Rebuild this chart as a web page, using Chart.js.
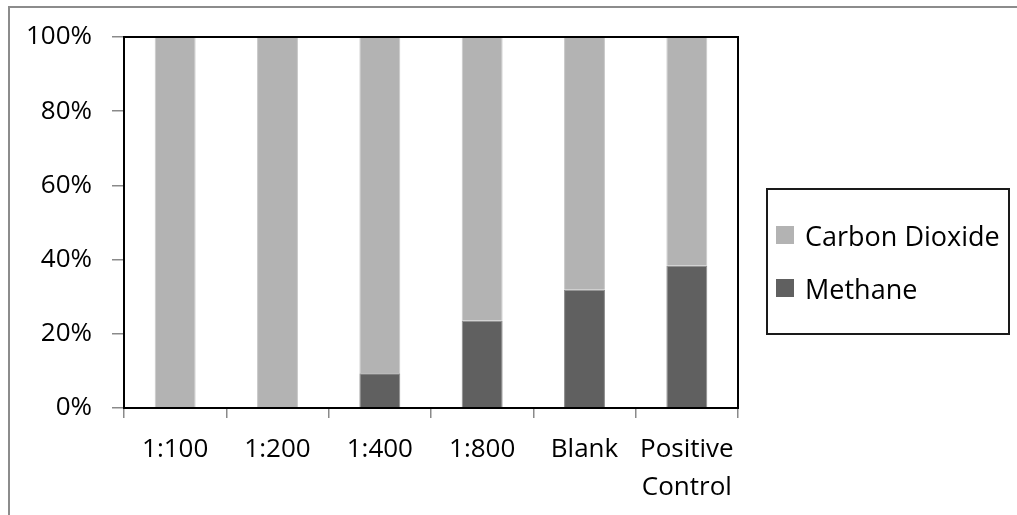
<!DOCTYPE html>
<html lang="en">
<head>
    <meta charset="UTF-8">
    <title>Methane and Carbon Dioxide</title>
    <style>
        html, body { margin: 0; padding: 0; background: #fff; }
        .wrap { position: relative; width: 1017px; height: 515px; overflow: hidden; font-family: "Open Sans", sans-serif; }
        .frame { position: absolute; left: 8px; top: 6px; width: 1100px; height: 600px; border-top: 2px solid #8c8c8c; border-left: 2px solid #8c8c8c; }
        canvas { position: absolute; left: 0; top: 0; }
        .legend { position: absolute; left: 766px; top: 188px; width: 244px; height: 147px; box-sizing: border-box;
                  border: 2px solid #1a1a1a; display: flex; flex-direction: column; justify-content: center; padding-left: 8px; }
        .legend .item { display: flex; align-items: center; height: 30px; font-size: 27px; color: #000; }
        .legend .item + .item { margin-top: 23px; }
        .legend .box { width: 18px; height: 18px; margin-right: 11px; }
    </style>
</head>
<body>
    <div class="wrap">
        <div class="frame"></div>
        <canvas id="gasChart" width="1017" height="515"></canvas>
        <div class="legend" id="legend"></div>
    </div>

    <script src="https://cdn.jsdelivr.net/npm/chart.js"></script>
    <script>
        // values (percent of gas)
        var categories = ['1:100', '1:200', '1:400', '1:800', 'Blank', ['Positive', 'Control']];
        var methane = [0, 0, 9.4, 23.6, 31.9, 38.4];
        var carbonDioxide = [100, 100, 90.6, 76.4, 68.1, 61.6];
        var yTicks = [0, 20, 40, 60, 80, 100];

        var font = { family: '"Open Sans", sans-serif', size: 26 };

        // black frame round the plot area
        var plotBorder = {
            id: 'plotBorder',
            afterDraw: function(chart) {
                var a = chart.chartArea, c = chart.ctx;
                c.save();
                c.strokeStyle = '#000';
                c.lineWidth = 2;
                c.strokeRect(a.left, a.top, a.right - a.left, a.bottom - a.top);
                c.restore();
            }
        };

        var ctx = document.getElementById('gasChart').getContext('2d');
        var chart = new Chart(ctx, {
            type: 'bar',
            data: {
                labels: categories,
                datasets: [{
                    label: 'Methane',
                    data: methane,
                    backgroundColor: '#606060',
                    borderColor: '#8a8a8a',
                    borderWidth: 1
                }, {
                    label: 'Carbon Dioxide',
                    data: carbonDioxide,
                    backgroundColor: '#b3b3b3',
                    borderColor: '#c8c8c8',
                    borderWidth: 1
                }]
            },
            options: {
                responsive: false,
                animation: false,
                layout: { padding: { left: 0, top: 37, right: 279, bottom: 0 } },
                datasets: { bar: { categoryPercentage: 1, barPercentage: 0.4 } },
                plugins: { legend: { display: false }, tooltip: { enabled: false } },
                scales: {
                    x: {
                        stacked: true,
                        afterFit: function(s) { s.height = 107; },
                        grid: { offset: true, drawOnChartArea: false, tickLength: 10, color: '#8a8a8a', lineWidth: 1.5 },
                        border: { color: '#000', width: 2 },
                        ticks: { color: '#000', font: Object.assign({ lineHeight: 1.48 }, font), padding: 12, maxRotation: 0 }
                    },
                    y: {
                        stacked: true,
                        min: 0,
                        max: 100,
                        afterFit: function(s) { s.width = 124; },
                        afterBuildTicks: function(s) { s.ticks = yTicks.map(function(v) { return { value: v }; }); },
                        grid: { drawOnChartArea: false, tickLength: 12, color: '#8a8a8a', lineWidth: 1.5 },
                        border: { color: '#000', width: 2 },
                        ticks: { color: '#000', font: font, padding: 20, callback: function(v) { return v + '%'; } }
                    }
                }
            },
            plugins: [plotBorder]
        });

        // legend box, same order as the original (top series first)
        var legend = document.getElementById('legend');
        chart.data.datasets.slice().reverse().forEach(function(ds) {
            var item = document.createElement('div');
            item.className = 'item';
            var box = document.createElement('span');
            box.className = 'box';
            box.style.background = ds.backgroundColor;
            item.appendChild(box);
            item.appendChild(document.createTextNode(ds.label));
            legend.appendChild(item);
        });
    </script>
</body>
</html>
